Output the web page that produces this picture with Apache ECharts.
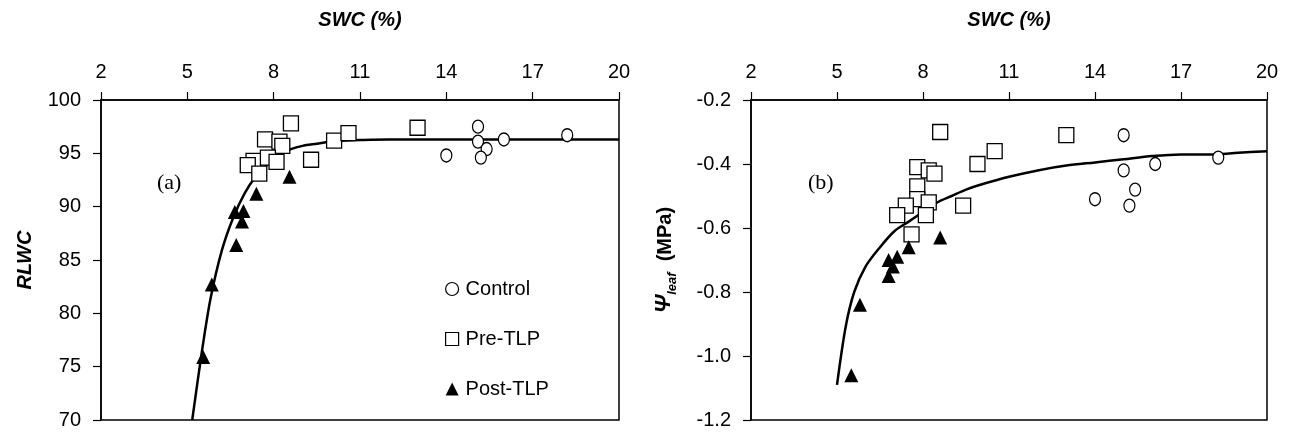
<!DOCTYPE html>
<html>
<head>
<meta charset="utf-8">
<script src="https://cdn.jsdelivr.net/npm/echarts@6/dist/echarts.min.js"></script>
<style>
  html, body { margin: 0; padding: 0; background: #fff; }
  #chart { width: 1292px; height: 436px; }
</style>
</head>
<body>
<div id="chart"></div>
<script>
// Soil water content (SWC, %) tick values shared by both panels
const swcTicks = [2, 5, 8, 11, 14, 17, 20];
const rlwcTicks = [70, 75, 80, 85, 90, 95, 100];
const psiTicks = [-1.2, -1.0, -0.8, -0.6, -0.4, -0.2];

// Panel (a): relative leaf water content (RLWC, %) vs SWC
const rlwcControl = [[14.0, 94.8], [15.1, 97.5], [15.1, 96.1], [15.4, 95.4], [15.2, 94.6], [16.0, 96.3], [18.2, 96.7]];
const rlwcPre = [[8.6, 97.8], [7.7, 96.3], [8.2, 96.1], [8.3, 95.7], [7.3, 94.3], [7.1, 93.9], [7.8, 94.6],
  [8.1, 94.2], [7.5, 93.1], [9.3, 94.4], [10.1, 96.2], [10.6, 96.9], [13.0, 97.4]];
const rlwcPost = [[5.55, 75.9], [5.85, 82.7], [6.7, 86.4], [6.9, 88.6], [6.65, 89.5], [6.95, 89.6], [7.4, 91.2], [8.55, 92.8]];
const rlwcFit = [[5.17, 70], [5.5, 76.3], [5.8, 81.3], [6.2, 85.9], [6.6, 89.0], [7.0, 91.3], [7.4, 92.9],
  [7.8, 94.0], [8.2, 94.9], [8.6, 95.4], [9.0, 95.7], [9.5, 95.9], [10.0, 96.1], [10.5, 96.2], [11, 96.25],
  [12, 96.3], [14, 96.3], [20, 96.3]];

// Panel (b): leaf water potential (MPa) vs SWC
const psiControl = [[15.0, -0.31], [18.3, -0.38], [16.1, -0.40], [15.0, -0.42], [15.4, -0.48], [14.0, -0.51], [15.2, -0.53]];
const psiPre = [[8.6, -0.30], [13.0, -0.31], [10.5, -0.36], [9.9, -0.40], [7.8, -0.41], [8.2, -0.42], [8.4, -0.43],
  [7.8, -0.47], [7.8, -0.51], [8.2, -0.52], [7.4, -0.53], [9.4, -0.53], [8.1, -0.56], [7.1, -0.56], [7.6, -0.62]];
const psiPost = [[8.6, -0.63], [7.5, -0.66], [7.1, -0.69], [6.8, -0.70], [6.95, -0.72], [6.8, -0.75], [5.8, -0.84], [5.5, -1.06]];
const psiFit = [[5.0, -1.09], [5.3, -0.91], [5.6, -0.80], [6.0, -0.72], [6.5, -0.66], [7.0, -0.61], [7.5, -0.58],
  [8.0, -0.55], [8.5, -0.52], [9.0, -0.50], [9.5, -0.48], [10.0, -0.465], [11, -0.44], [12, -0.42], [13, -0.405],
  [14, -0.395], [15, -0.385], [16, -0.375], [17, -0.37], [18, -0.37], [19, -0.365], [20, -0.36]];

const FONT = 'Liberation Sans, Arial, sans-serif';
const SERIF = 'Liberation Serif, Times New Roman, serif';

function xAxisFor(gridIndex) {
  return {
    gridIndex, type: 'value', position: 'top', min: 2, max: 20, interval: 3,
    name: 'SWC (%)', nameLocation: 'middle', nameGap: 70,
    nameTextStyle: { fontFamily: FONT, fontSize: 20, fontWeight: 'bold', fontStyle: 'italic', color: '#000' },
    axisLine: { show: true, onZero: false, lineStyle: { color: '#000', width: 1.5 } },
    axisTick: { show: true, inside: false, length: 8, lineStyle: { color: '#000', width: 1.2 }, customValues: swcTicks },
    axisLabel: { fontFamily: FONT, fontSize: 20, color: '#000', margin: 18, customValues: swcTicks },
    splitLine: { show: false }
  };
}

const openStyle = { color: '#fff', borderColor: '#000', borderWidth: 1.3, opacity: 1 };
const solidStyle = { color: '#000', opacity: 1 };

function scatter(name, data, xi, symbol, size, style) {
  return { type: 'scatter', name, data, xAxisIndex: xi, yAxisIndex: xi, symbol, symbolSize: size, itemStyle: style, z: 3 };
}
function fit(data, xi) {
  return { type: 'line', name: 'fit', data, xAxisIndex: xi, yAxisIndex: xi, showSymbol: false, smooth: 0.3,
    lineStyle: { color: '#000', width: 2.5 }, z: 2, silent: true };
}

const option = {
  backgroundColor: '#fff',
  animation: false,
  grid: [
    { left: 101, top: 100, width: 518, height: 320, show: true, borderColor: '#000', borderWidth: 1.5, backgroundColor: 'transparent' },
    { left: 751, top: 100, width: 516, height: 320, show: true, borderColor: '#000', borderWidth: 1.5, backgroundColor: 'transparent' }
  ],
  xAxis: [xAxisFor(0), xAxisFor(1)],
  yAxis: [
    {
      gridIndex: 0, type: 'value', min: 70, max: 100, interval: 5,
      name: 'RLWC', nameLocation: 'middle', nameGap: 66,
      nameTextStyle: { fontFamily: FONT, fontSize: 20, fontWeight: 'bold', fontStyle: 'italic', color: '#000' },
      axisLine: { show: true, lineStyle: { color: '#000', width: 1.5 } },
      axisTick: { show: true, length: 8, lineStyle: { color: '#000', width: 1.2 }, customValues: rlwcTicks },
      axisLabel: { fontFamily: FONT, fontSize: 20, color: '#000', margin: 20, customValues: rlwcTicks },
      splitLine: { show: false }
    },
    {
      gridIndex: 1, type: 'value', min: -1.2, max: -0.2, interval: 0.2,
      name: '{psi|Ψ}{sub|leaf}{unit|  (MPa)}', nameLocation: 'middle', nameGap: 76,
      nameTextStyle: {
        fontFamily: FONT, color: '#000',
        rich: {
          psi: { fontFamily: FONT, fontSize: 22, fontWeight: 'bold', fontStyle: 'italic', lineHeight: 26, verticalAlign: 'bottom' },
          sub: { fontFamily: FONT, fontSize: 13, fontWeight: 'bold', fontStyle: 'italic', lineHeight: 26, verticalAlign: 'bottom', padding: [0, 0, -4, 0] },
          unit: { fontFamily: FONT, fontSize: 20, fontWeight: 'bold', lineHeight: 26, verticalAlign: 'bottom' }
        }
      },
      axisLine: { show: true, lineStyle: { color: '#000', width: 1.5 } },
      axisTick: { show: true, length: 8, lineStyle: { color: '#000', width: 1.2 }, customValues: psiTicks },
      axisLabel: { fontFamily: FONT, fontSize: 20, color: '#000', margin: 20, customValues: psiTicks,
        formatter: v => v.toFixed(1) },
      splitLine: { show: false }
    }
  ],
  legend: {
    data: [
      { name: 'Control', itemStyle: { borderWidth: 1.2 } },
      { name: 'Pre-TLP', itemStyle: { borderWidth: 1.2 } },
      { name: 'Post-TLP' }
    ],
    orient: 'vertical', left: 440, top: 274, itemGap: 30, itemWidth: 13, itemHeight: 13,
    textStyle: { fontFamily: FONT, fontSize: 20, color: '#000', padding: [0, 0, 0, 2] },
    selectedMode: false
  },
  graphic: [
    { type: 'text', left: 157, top: 172, style: { text: '(a)', font: '22px ' + SERIF, fill: '#000' } },
    { type: 'text', left: 808, top: 172, style: { text: '(b)', font: '22px ' + SERIF, fill: '#000' } }
  ],
  series: [
    fit(rlwcFit, 0),
    scatter('Control', rlwcControl, 0, 'circle', [11, 13], openStyle),
    scatter('Pre-TLP', rlwcPre, 0, 'rect', 15, openStyle),
    scatter('Post-TLP', rlwcPost, 0, 'triangle', 14, solidStyle),
    fit(psiFit, 1),
    scatter('Control', psiControl, 1, 'circle', [11, 13], openStyle),
    scatter('Pre-TLP', psiPre, 1, 'rect', 15, openStyle),
    scatter('Post-TLP', psiPost, 1, 'triangle', 14, solidStyle)
  ]
};

const chart = echarts.init(document.getElementById('chart'), null, { renderer: 'canvas' });
chart.setOption(option);
</script>
</body>
</html>
